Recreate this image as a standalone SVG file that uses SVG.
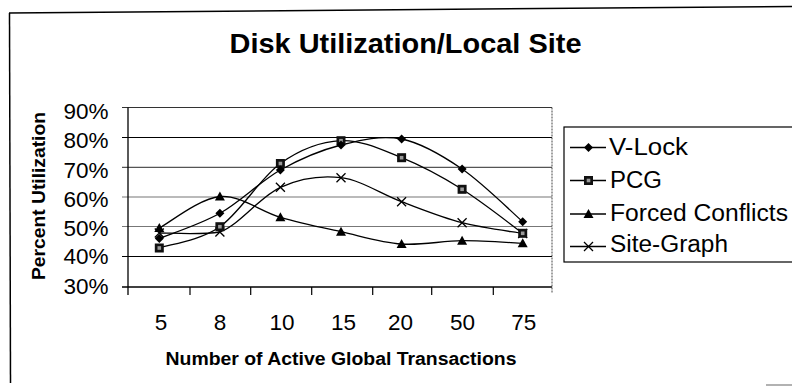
<svg xmlns="http://www.w3.org/2000/svg" xmlns:xlink="http://www.w3.org/1999/xlink" width="792" height="386" viewBox="0 0 792 386">
  <style>
    text { font-family: "Liberation Sans", Arial, sans-serif; fill: #000; }
    .title { font-size: 28px; font-weight: bold; }
    .axt { font-size: 18px; font-weight: bold; }
    .tick { font-size: 22.5px; }
    .leg { font-size: 23px; }
    .series { fill: none; stroke: #000; stroke-width: 1.3; }
    .grid { stroke-width: 1.2; }
  </style>
  <defs>
    <polygon id="m-dia" points="0,-4.5 4.5,0 0,4.5 -4.5,0" fill="#000"/>
    <g id="m-sq">
      <rect x="-4.5" y="-4.5" width="9" height="9" fill="#111"/>
      <rect x="-1.8" y="-1.8" width="3.6" height="3.6" fill="#9a9a9a"/>
    </g>
    <polygon id="m-tri" points="0,-5 5,4 -5,4" fill="#000"/>
    <path id="m-x" d="M-4.5,-4.5 L4.5,4.5 M-4.5,4.5 L4.5,-4.5" stroke="#000" stroke-width="1.3" fill="none"/>
  </defs>

  <rect width="792" height="386" fill="#fff"/>

  <!-- outer chart frame -->
  <g id="frame" stroke="#000" stroke-width="1.5" fill="none">
    <line x1="9" y1="13" x2="792" y2="6.5"/>
    <line x1="9.5" y1="13" x2="10.5" y2="383"/>
    <line x1="766" y1="385" x2="792" y2="385" stroke="#999"/>
  </g>

  <g id="title">
    <text class="title" x="405.5" y="53" text-anchor="middle" textLength="352" lengthAdjust="spacingAndGlyphs">Disk Utilization/Local Site</text>
  </g>

  <!-- plot area: gridlines, axes, ticks -->
  <g id="plot-area">
    <line class="grid" x1="122" y1="107.5" x2="552" y2="107.5" stroke="#333" stroke-width="1"/>
    <line class="grid" x1="122" y1="137.5" x2="552" y2="137.5" stroke="#000"/>
    <line class="grid" x1="122" y1="167.3" x2="552" y2="167.3" stroke="#555"/>
    <line class="grid" x1="122" y1="197" x2="552" y2="197" stroke="#777" stroke-width="1.6"/>
    <line class="grid" x1="122" y1="226.5" x2="552" y2="226.5" stroke="#777" stroke-width="1.5"/>
    <line class="grid" x1="122" y1="256.5" x2="552" y2="256.5" stroke="#000"/>
    <line x1="122" y1="287" x2="552" y2="287" stroke="#000" stroke-width="1.3"/>
    <line x1="128" y1="107.5" x2="128" y2="295" stroke="#000" stroke-width="1.3"/>
    <line x1="552" y1="107.5" x2="552" y2="293" stroke="#444" stroke-width="1" stroke-dasharray="2,1"/>
    <g stroke="#000" stroke-width="1.2">
      <line x1="190" y1="287" x2="190" y2="295"/>
      <line x1="250.7" y1="287" x2="250.7" y2="295"/>
      <line x1="311.7" y1="287" x2="311.7" y2="295"/>
      <line x1="372.7" y1="287" x2="372.7" y2="295"/>
      <line x1="431.7" y1="287" x2="431.7" y2="295"/>
      <line x1="493.3" y1="287" x2="493.3" y2="295"/>
    </g>
  </g>

  <!-- axis labels -->
  <g id="y-axis-labels" class="tick" text-anchor="end">
    <text class="tick" x="108.5" y="118.5">90%</text>
    <text class="tick" x="108.5" y="148">80%</text>
    <text class="tick" x="108.5" y="178">70%</text>
    <text class="tick" x="108.5" y="206.5">60%</text>
    <text class="tick" x="108.5" y="235.5">50%</text>
    <text class="tick" x="108.5" y="264">40%</text>
    <text class="tick" x="108.5" y="293.5">30%</text>
  </g>
  <g id="x-axis-labels" text-anchor="middle">
    <text class="tick" x="161" y="330">5</text>
    <text class="tick" x="220" y="330">8</text>
    <text class="tick" x="282" y="330">10</text>
    <text class="tick" x="343.5" y="330">15</text>
    <text class="tick" x="400.5" y="330">20</text>
    <text class="tick" x="462.5" y="330">50</text>
    <text class="tick" x="523.7" y="330">75</text>
  </g>
  <g id="axis-titles">
    <text class="axt" x="341" y="365" text-anchor="middle" textLength="351" lengthAdjust="spacingAndGlyphs">Number of Active Global Transactions</text>
    <text class="axt" transform="translate(45,196) rotate(-90)" text-anchor="middle" textLength="168" lengthAdjust="spacingAndGlyphs">Percent Utilization</text>
  </g>

  <!-- data series (smoothed lines) -->
  <g id="series" transform="translate(1,0)">
    <g id="series-vlock">
      <path class="series" d="M158.3,238.5 C168.4,234.3 198.7,224.7 218.9,213.3 C239.1,201.9 259.2,181.4 279.4,170 C299.6,158.6 319.8,150.2 340,145 C360.2,139.8 380.4,135 400.6,139 C420.8,143 440.9,155.2 461.1,169 C481.3,182.8 511.6,212.9 521.7,221.7"/>
    </g>
    <g id="series-pcg">
      <path class="series" d="M158.3,248 C168.4,244.45 198.7,240.78 218.9,226.7 C239.1,212.62 259.2,177.83 279.4,163.5 C299.6,149.17 319.8,141.67 340,140.7 C360.2,139.73 380.4,149.6 400.6,157.7 C420.8,165.8 440.9,176.7 461.1,189.3 C481.3,201.9 511.6,225.97 521.7,233.3"/>
    </g>
    <g id="series-forced">
      <path class="series" d="M158.3,228 C168.4,222.75 198.7,198.28 218.9,196.5 C239.1,194.72 259.2,211.43 279.4,217.3 C299.6,223.17 319.8,227.25 340,231.7 C360.2,236.15 380.4,242.5 400.6,244 C420.8,245.5 440.9,240.82 461.1,240.7 C481.3,240.58 511.6,242.87 521.7,243.3"/>
    </g>
    <g id="series-sitegraph">
      <path class="series" d="M158.3,233 C168.4,232.9 198.7,235 218.9,232 C239.1,224.38 259.2,196.35 279.4,187.3 C299.6,178.25 319.8,175.3 340,177.7 C360.2,180.1 380.4,194.2 400.6,201.7 C420.8,209.2 440.9,217.4 461.1,222.7 C481.3,228 511.6,231.7 521.7,233.5"/>
    </g>

    <!-- markers -->
    <g id="markers-sitegraph">
      <use xlink:href="#m-x" x="158.3" y="233"/>
      <use xlink:href="#m-x" x="218.9" y="232"/>
      <use xlink:href="#m-x" x="279.4" y="187.3"/>
      <use xlink:href="#m-x" x="340" y="177.7"/>
      <use xlink:href="#m-x" x="400.6" y="201.7"/>
      <use xlink:href="#m-x" x="461.1" y="222.7"/>
      <use xlink:href="#m-x" x="521.7" y="233.5"/>
    </g>
    <g id="markers-forced">
      <use xlink:href="#m-tri" x="158.3" y="228"/>
      <use xlink:href="#m-tri" x="218.9" y="196.5"/>
      <use xlink:href="#m-tri" x="279.4" y="217.3"/>
      <use xlink:href="#m-tri" x="340" y="231.7"/>
      <use xlink:href="#m-tri" x="400.6" y="244"/>
      <use xlink:href="#m-tri" x="461.1" y="240.7"/>
      <use xlink:href="#m-tri" x="521.7" y="243.3"/>
    </g>
    <g id="markers-pcg">
      <use xlink:href="#m-sq" x="158.3" y="248"/>
      <use xlink:href="#m-sq" x="218.9" y="226.7"/>
      <use xlink:href="#m-sq" x="279.4" y="163.5"/>
      <use xlink:href="#m-sq" x="340" y="140.7"/>
      <use xlink:href="#m-sq" x="400.6" y="157.7"/>
      <use xlink:href="#m-sq" x="461.1" y="189.3"/>
      <use xlink:href="#m-sq" x="521.7" y="233.3"/>
    </g>
    <g id="markers-vlock">
      <use xlink:href="#m-dia" x="158.3" y="238.5"/>
      <use xlink:href="#m-dia" x="218.9" y="213.3"/>
      <use xlink:href="#m-dia" x="279.4" y="170"/>
      <use xlink:href="#m-dia" x="340" y="145"/>
      <use xlink:href="#m-dia" x="400.6" y="139"/>
      <use xlink:href="#m-dia" x="461.1" y="169"/>
      <use xlink:href="#m-dia" x="521.7" y="221.7"/>
    </g>
  </g>

  <!-- legend -->
  <g id="legend">
    <rect x="564" y="127" width="240" height="135" fill="#fff" stroke="#000" stroke-width="1.2"/>
    <g stroke="#000" stroke-width="1.3">
      <line x1="570" y1="147.5" x2="606" y2="147.5"/>
      <line x1="570" y1="180.5" x2="606" y2="180.5"/>
      <line x1="570" y1="214" x2="606" y2="214"/>
      <line x1="570" y1="246.5" x2="606" y2="246.5"/>
    </g>
    <use xlink:href="#m-dia" x="588.5" y="147.5"/>
    <use xlink:href="#m-sq" x="588.5" y="180.5"/>
    <use xlink:href="#m-tri" x="588.5" y="214"/>
    <use xlink:href="#m-x" x="588.5" y="246.5"/>
    <text class="leg" x="609" y="154.5" textLength="79" lengthAdjust="spacingAndGlyphs">V-Lock</text>
    <text class="leg" x="610" y="187.5" textLength="52" lengthAdjust="spacingAndGlyphs">PCG</text>
    <text class="leg" x="610" y="221" textLength="178" lengthAdjust="spacingAndGlyphs">Forced Conflicts</text>
    <text class="leg" x="610" y="252" textLength="118" lengthAdjust="spacingAndGlyphs">Site-Graph</text>
  </g>
</svg>
